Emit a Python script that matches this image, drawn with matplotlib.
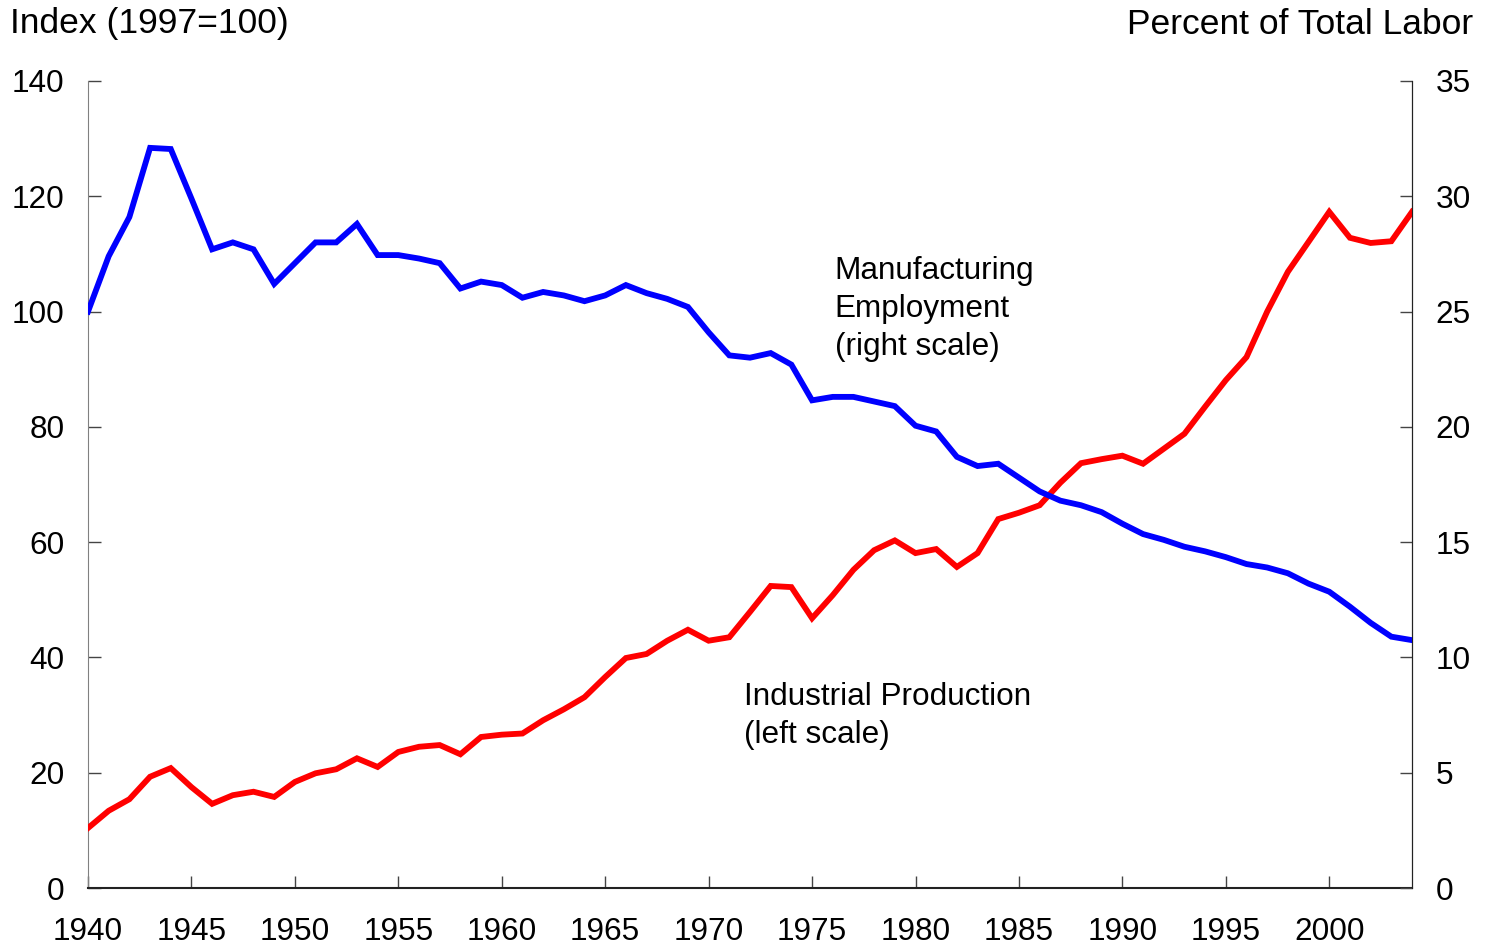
import matplotlib
matplotlib.use("Agg")
import matplotlib.pyplot as plt

plt.rcParams['font.family'] = ['Liberation Sans', 'DejaVu Sans']

years = list(range(1940, 2005))

# Industrial production, index 1997=100 (left scale)
industrial_production = [
    10.4, 13.4, 15.4, 19.3, 20.8, 17.5, 14.6, 16.1, 16.7, 15.8,
    18.4, 19.9, 20.6, 22.5, 21.0, 23.6, 24.5, 24.8, 23.2, 26.2,
    26.6, 26.8, 29.1, 31.0, 33.1, 36.6, 39.9, 40.6, 42.9, 44.8,
    42.9, 43.5, 47.9, 52.4, 52.2, 46.8, 50.8, 55.2, 58.6, 60.3,
    58.1, 58.8, 55.7, 58.1, 64.0, 65.1, 66.4, 70.3, 73.7, 74.4,
    75.0, 73.6, 76.2, 78.8, 83.5, 88.1, 92.1, 100.0, 106.9, 112.1,
    117.3, 112.8, 111.9, 112.2, 117.3,
]

# Manufacturing employment, percent of total labor (right scale)
manufacturing_share = [
    25.0, 27.4, 29.1, 32.1, 32.05, 29.9, 27.7, 28.0, 27.7, 26.2,
    27.1, 28.0, 28.0, 28.8, 27.45, 27.45, 27.3, 27.1, 26.0, 26.3,
    26.15, 25.6, 25.85, 25.7, 25.45, 25.7, 26.15, 25.8, 25.55, 25.2,
    24.1, 23.1, 23.0, 23.2, 22.7, 21.15, 21.3, 21.3, 21.1, 20.9,
    20.05, 19.8, 18.7, 18.3, 18.4, 17.8, 17.2, 16.8, 16.6, 16.3,
    15.8, 15.35, 15.1, 14.8, 14.6, 14.35, 14.05, 13.9, 13.65, 13.2,
    12.85, 12.2, 11.5, 10.9, 10.75,
]

x_ticks = list(range(1940, 2001, 5))
left_ticks = list(range(0, 141, 20))
right_ticks = list(range(0, 36, 5))

fs = 22.7       # tick labels and notes
fs_title = 25.5  # axis titles

fig = plt.figure(figsize=(14.85, 9.47), dpi=100)
ax = fig.add_axes([88 / 1485, 59 / 947, 1324 / 1485, 807 / 947])
ax2 = ax.twinx()

ax.plot(years, industrial_production, color='#ff0000', lw=4.2, solid_joinstyle='miter', zorder=3)
ax2.plot(years, manufacturing_share, color='#0000ff', lw=4.2, solid_joinstyle='miter', zorder=3)

ax.set_xlim(1940, 2004)
ax.set_ylim(0, 140)
ax2.set_ylim(0, 35)

ax.set_xticks(x_ticks)
ax.set_xticklabels([str(y) for y in x_ticks])
ax.set_yticks(left_ticks)
ax2.set_yticks(right_ticks)

ax.tick_params(axis='x', direction='in', length=9, width=1, labelsize=fs, pad=21, colors='#444444', labelcolor='black')
ax.tick_params(axis='y', direction='in', length=9, width=1, labelsize=fs, pad=17, colors='#444444', labelcolor='black')
ax2.tick_params(axis='y', direction='in', length=9, width=1, labelsize=fs, pad=17, colors='#444444', labelcolor='black')

for a in (ax, ax2):
    a.spines['top'].set_visible(False)
ax.spines['left'].set_color('#808080')
ax.spines['bottom'].set_color('#222222')
ax2.spines['right'].set_color('#222222')
ax2.spines['left'].set_visible(False)
ax2.spines['bottom'].set_visible(False)
ax.spines['bottom'].set_linewidth(1.5)

fig.text(10 / 1485, 1 - 24 / 947, 'Index (1997=100)', fontsize=fs_title, ha='left', va='center')
fig.text(1473 / 1485, 1 - 24 / 947, 'Percent of Total Labor', fontsize=fs_title, ha='right', va='center')

ax.text(1976.1, 100.4, 'Manufacturing\nEmployment\n(right scale)', fontsize=fs,
        ha='left', va='center', linespacing=1.34)
ax.text(1971.7, 29.8, 'Industrial Production\n(left scale)', fontsize=fs,
        ha='left', va='center', linespacing=1.34)

fig.savefig('out.png', dpi=100)
